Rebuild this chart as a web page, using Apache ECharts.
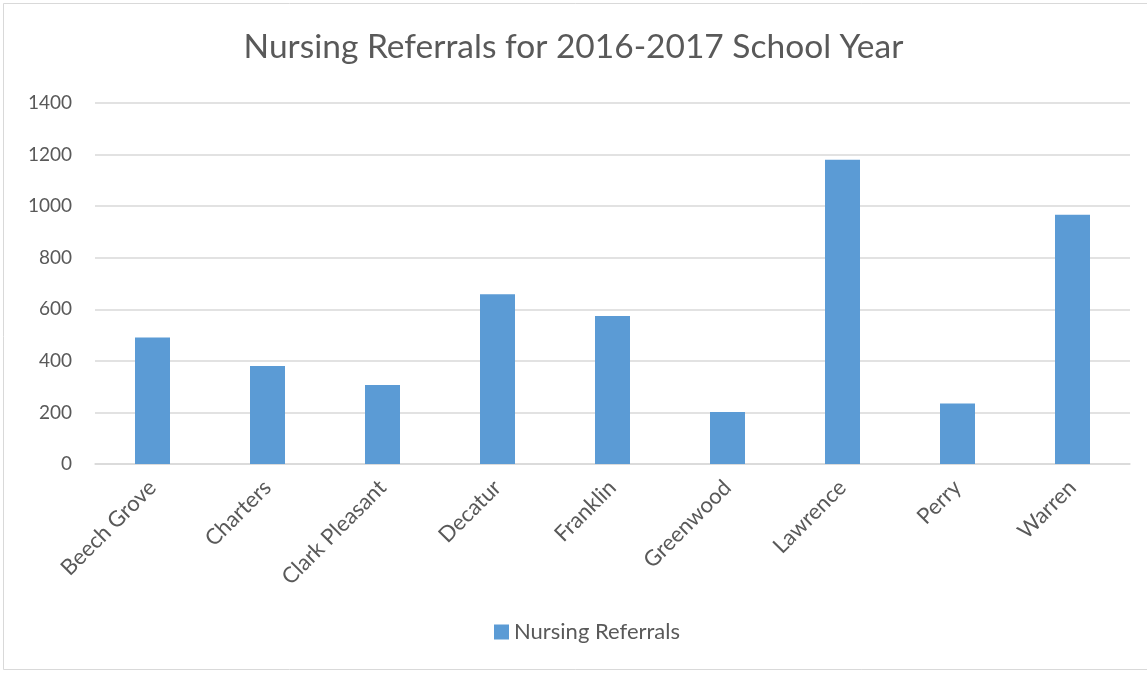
<!DOCTYPE html>
<html>
<head>
<meta charset="utf-8">
<script src="https://cdn.jsdelivr.net/npm/echarts@6/dist/echarts.min.js"></script>
<style>
html,body{margin:0;padding:0;background:#fff;}
#chart{width:1147px;height:673px;}
</style>
</head>
<body>
<div id="chart"></div>
<script>
const titleText = "Nursing Referrals for 2016-2017 School Year";
const seriesName = "Nursing Referrals";
const categories = ["Beech Grove","Charters","Clark Pleasant","Decatur","Franklin","Greenwood","Lawrence","Perry","Warren"];
const referrals = [491, 380, 306, 658, 574, 202, 1180, 235, 967];
const yTicks = [0, 200, 400, 600, 800, 1000, 1200, 1400];

const FONT = "Lato";
const chart = echarts.init(document.getElementById('chart'), null, {renderer:'canvas'});
chart.setOption({
  animation:false,
  backgroundColor:'#ffffff',
  graphic:[{
    type:'rect', shape:{x:3.5,y:3.5,width:1160,height:666},
    style:{fill:'none',stroke:'#d9d9d9',lineWidth:1}, silent:true
  }],
  title:{
    text:titleText, left:'center', top:25,
    textStyle:{fontFamily:FONT,fontSize:33.5,fontWeight:'normal',color:'#595959'}
  },
  legend:{
    bottom:25, left:489,
    itemWidth:15, itemHeight:15, itemGap:6,
    icon:'rect',
    textStyle:{fontFamily:FONT,fontSize:22,color:'#595959'},
    data:[seriesName]
  },
  grid:{left:95, right:17, top:103, bottom:209, containLabel:false},
  xAxis:{
    type:'category', data:categories,
    axisLine:{show:true,lineStyle:{color:'#d9d9d9',width:1.5}},
    axisTick:{show:false},
    axisLabel:{rotate:45, interval:0, margin:20, fontFamily:FONT, fontSize:22, color:'#595959'}
  },
  yAxis:{
    type:'value', min:yTicks[0], max:yTicks[yTicks.length-1], interval:200,
    axisLine:{show:false}, axisTick:{show:false},
    axisLabel:{fontFamily:FONT,fontSize:19,color:'#595959',margin:23,formatter:function(v){return String(v);}},
    splitLine:{lineStyle:{color:'#d9d9d9',width:1.5}}
  },
  series:[{
    name:seriesName, type:'bar', data:referrals,
    barWidth:35,
    itemStyle:{color:'#5b9bd5'}
  }]
});
</script>
</body>
</html>
